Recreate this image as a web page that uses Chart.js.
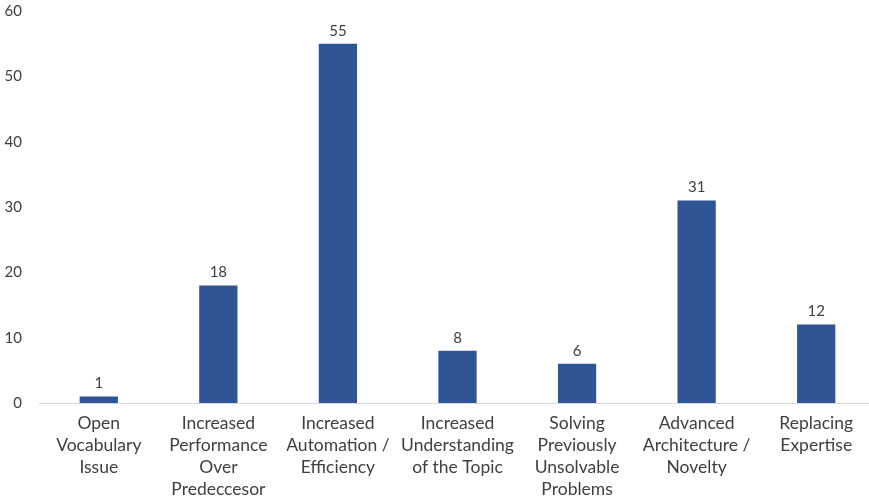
<!DOCTYPE html>
<html>
<head>
<meta charset="utf-8">
<script src="https://cdn.jsdelivr.net/npm/chart.js@4"></script>
<style>
    html, body { margin: 0; padding: 0; overflow: hidden; background: #fff; }
</style>
</head>
<body>
<canvas id="myChart" width="876" height="504"></canvas>
<script>
const categories = [
    ["Open", "Vocabulary", "Issue"],
    ["Increased", "Performance", "Over", "Predeccesor"],
    ["Increased", "Automation /", "Efficiency"],
    ["Increased", "Understanding", "of the Topic"],
    ["Solving", "Previously", "Unsolvable", "Problems"],
    ["Advanced", "Architecture /", "Novelty"],
    ["Replacing", "Expertise"]
]
const counts = [1, 18, 55, 8, 6, 31, 12]
const yTicks = [0, 10, 20, 30, 40, 50, 60]

const fontFamily = "Lato, 'Open Sans', sans-serif"
const textColor = '#404040'

// draws the value above every bar
const barLabels = {
    id: 'barLabels',
    afterDatasetsDraw(chart){
        const ctx = chart.ctx
        const meta = chart.getDatasetMeta(0)
        ctx.save()
        ctx.font = `15px ${fontFamily}`
        ctx.fillStyle = textColor
        ctx.textAlign = 'center'
        ctx.textBaseline = 'middle'
        meta.data.forEach((bar, i) => {
            ctx.fillText(String(counts[i]), bar.x, bar.y - 13)
        })
        ctx.restore()
    }
}

window.addEventListener('DOMContentLoaded', () => {
    new Chart(document.getElementById('myChart').getContext('2d'), {
        type: 'bar',
        data: {
            labels: categories,
            datasets: [{
                data: counts,
                backgroundColor: '#2F5597',
                borderWidth: 0,
                categoryPercentage: 1,
                barPercentage: 0.32
            }]
        },
        options: {
            responsive: false,
            animation: false,
            layout: { padding: { top: 11, right: 0, bottom: 0, left: 0 } },
            plugins: {
                legend: { display: false },
                tooltip: { enabled: false }
            },
            scales: {
                x: {
                    grid: { display: false, drawTicks: false },
                    border: { display: true, color: '#d9d9d9', width: 1 },
                    ticks: {
                        color: textColor,
                        padding: 10,
                        maxRotation: 0,
                        autoSkip: false,
                        font: { family: fontFamily, size: 17.5, lineHeight: 1.24 }
                    },
                    afterFit(scale){
                        scale.height = 101
                        scale.paddingLeft = 0
                        scale.paddingRight = 0
                    }
                },
                y: {
                    min: 0,
                    max: 60,
                    afterBuildTicks(scale){ scale.ticks = yTicks.map(v => ({ value: v })) },
                    grid: { display: false, drawTicks: false },
                    border: { display: false },
                    ticks: {
                        color: textColor,
                        padding: 17,
                        font: { family: fontFamily, size: 15 }
                    },
                    afterFit(scale){
                        scale.width = 39
                        scale.paddingTop = 0
                        scale.paddingBottom = 0
                    }
                }
            }
        },
        plugins: [barLabels]
    })
})
</script>
</body>
</html>
